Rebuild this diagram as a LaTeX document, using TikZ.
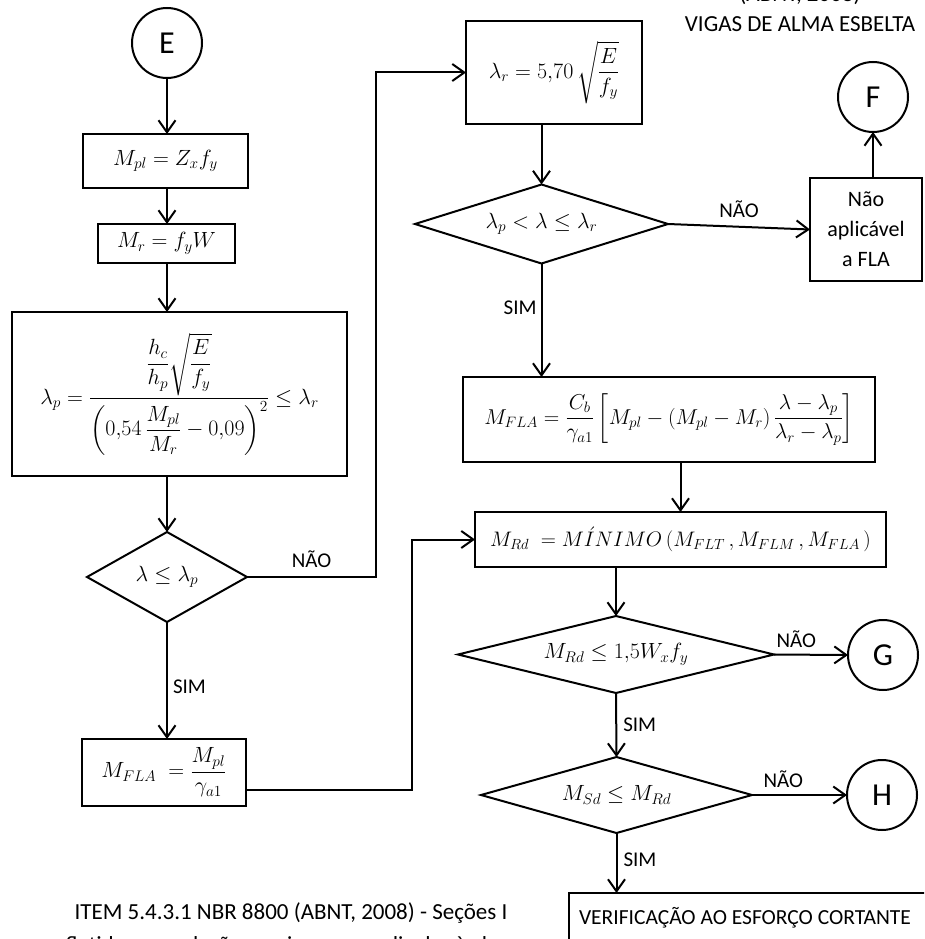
\RequirePackage{fix-cm}
\documentclass[tikz,border=0pt]{standalone}
\usepackage{amsmath}
\usepackage[no-math]{fontspec}
\setmainfont{Carlito}
\usetikzlibrary{arrows.meta,shapes.geometric,calc}
\newcommand\lblsz{\fontsize{21}{25}\selectfont}
\newcommand\mathsz{\fontsize{22}{27}\selectfont}
\newcommand\mathsm{\fontsize{21.5}{25}\selectfont}
\newcommand\mathxs{\fontsize{21}{25}\selectfont}
\newcommand\circsz{\fontsize{32}{37}\selectfont}
\newcommand\titlesz{\fontsize{23}{28}\selectfont}
\newcommand\verisz{\fontsize{21.5}{26}\selectfont}
\newcommand\boxtxt{\fontsize{22}{30}\selectfont}
\begin{document}
\begin{tikzpicture}[x=1pt,y=-1pt,
  box/.style={draw,line width=2pt,rectangle,inner sep=0pt,outer sep=0pt,font=\mathsz},
  dia/.style={draw,line width=2pt,diamond,inner sep=0pt,outer sep=0pt,font=\mathsz},
  conn/.style={draw,circle,line width=2pt,minimum size=70pt,inner sep=0pt,outer sep=0pt,font=\circsz},
  arr/.style={line width=2pt,-{Straight Barb[length=12pt,width=17pt,line width=2pt]}},
  lbl/.style={font=\lblsz,inner sep=0pt}]
\useasboundingbox (0,0) rectangle (924,939);
\clip (0,0) rectangle (924,939);

% left column
\node[conn] (E) at (167,43) {E};
\node[box,minimum width=165pt,minimum height=54pt] (mpl) at (165.5,161) {$M_{pl}=Z_xf_y$};
\node[box,minimum width=137pt,minimum height=39pt] (mr) at (166.5,243.5) {$M_r=f_yW$};
\node[box,minimum width=335pt,minimum height=164pt] (lp) at (179.5,394)
  {$\lambda_p=\dfrac{\dfrac{h_c}{h_p}\sqrt{\dfrac{E}{f_y}}}{\left(0{,}54\,\dfrac{M_{pl}}{M_r}-0{,}09\right)^{2}}\le\lambda_r$};
\node[dia,aspect=1.78,minimum width=160pt,minimum height=90pt] (d1) at (167,577) {$\lambda\le\lambda_p$};
\node[box,minimum width=164pt,minimum height=67pt] (fla1) at (164,772.5) {$M_{FLA}\;=\dfrac{M_{pl}}{\gamma_{a1}}$};

% right column
\node[box,minimum width=176pt,minimum height=103pt] (lr) at (554,72.5) {$\lambda_r=5{,}70\,\sqrt{\dfrac{E}{f_y}}$};
\node[dia,aspect=3.2,minimum width=253pt,minimum height=79pt] (d2) at (541.5,224) {$\lambda_p<\lambda\le\lambda_r$};
\node[box,font=\boxtxt,align=center,minimum width=112pt,minimum height=103pt] (na) at (866,229.5) {Não\\aplicável\\a FLA};
\node[conn] (F) at (873,97) {F};
\node[box,font=\mathsm,minimum width=412pt,minimum height=85pt] (fla2) at (669,419.5)
  {$M_{FLA}=\dfrac{C_b}{\gamma_{a1}}\left[M_{pl}-\left(M_{pl}-M_r\right)\dfrac{\lambda-\lambda_p}{\lambda_r-\lambda_p}\right]$};
\node[box,font=\mathxs,minimum width=411pt,minimum height=55pt] (mrd) at (680.5,539.5)
  {$M_{Rd}\;=M\acute{I}NIMO\,(M_{FLT}\,,M_{FLM}\,,M_{FLA}\,)$};
\node[dia,aspect=4.1,minimum width=316pt,minimum height=77pt] (d3) at (616,654.5) {$M_{Rd}\le 1{,}5W_xf_y$};
\node[conn] (G) at (883,655) {G};
\node[dia,aspect=3.57,minimum width=271pt,minimum height=76pt] (d4) at (616.5,795) {$M_{Sd}\le M_{Rd}$};
\node[conn] (H) at (882,795) {H};
\node[box,font=\verisz,anchor=north west,minimum width=420pt,minimum height=50pt,text width=400pt,align=flush left] (ver) at (569,893) {VERIFICAÇÃO AO ESFORÇO CORTANTE};

% texts
\node[font=\titlesz,anchor=base,inner sep=0pt] (t0) at (800,2) {(ABNT, 2008)};
\node[font=\titlesz,anchor=base,inner sep=0pt] (t1) at (800,32) {VIGAS DE ALMA ESBELTA};
\node[font=\titlesz,anchor=base,inner sep=0pt] (c1) at (291,919) {ITEM 5.4.3.1 NBR 8800 (ABNT, 2008) - Seções I};
\node[font=\titlesz,anchor=base,inner sep=0pt] (c2) at (291,952) {fletidas em relação ao eixo perpendicular à alma};

% bend coordinates
\coordinate (b1) at (376,0);
\coordinate (b2) at (412,0);
\coordinate (fo) at ($(fla1.east)+(0,17)$);

% connectors
\draw[arr] (E.south) -- (E.south |- mpl.north);
\draw[arr] (E.south |- mpl.south) -- (E.south |- mr.north);
\draw[arr] (E.south |- mr.south) -- (E.south |- lp.north);
\draw[arr] (E.south |- lp.south) -- (d1.north);
\draw[arr] (d1.south) -- (d1.south |- fla1.north) node[lbl,pos=0.55,anchor=west,xshift=5pt] {SIM};
\draw[arr] (d1.east) -- (d1.east -| b1) node[lbl,pos=0.5,anchor=south,yshift=8pt] {NÃO} -- (b1 |- lr.west) -- (lr.west);
\draw[arr] (fo) -- (fo -| b2) -- (b2 |- mrd.west) -- (mrd.west);
\draw[arr] (d2.north |- lr.south) -- (d2.north);
\draw[arr] (d2.east) -- (na.west) node[lbl,pos=0.5,anchor=south,yshift=8pt] {NÃO};
\draw[arr] (F.south |- na.north) -- (F.south);
\draw[arr] (d2.south) -- (d2.south |- fla2.north) node[lbl,pos=0.39,anchor=east,xshift=-4pt] {SIM};
\draw[arr] (mrd.north |- fla2.south) -- (mrd.north);
\draw[arr] (d3.north |- mrd.south) -- (d3.north);
\draw[arr] (d3.east) -- (G.west) node[lbl,pos=0.3,anchor=south,yshift=6pt] {NÃO};
\draw[arr] (d3.south) -- (d4.north) node[lbl,pos=0.5,anchor=west,xshift=6pt] {SIM};
\draw[arr] (d4.east) -- (H.west) node[lbl,pos=0.33,anchor=south,yshift=6pt] {NÃO};
\draw[arr] (d4.south) -- (d4.south |- ver.north) node[lbl,pos=0.45,anchor=west,xshift=6pt] {SIM};
\end{tikzpicture}
\end{document}
